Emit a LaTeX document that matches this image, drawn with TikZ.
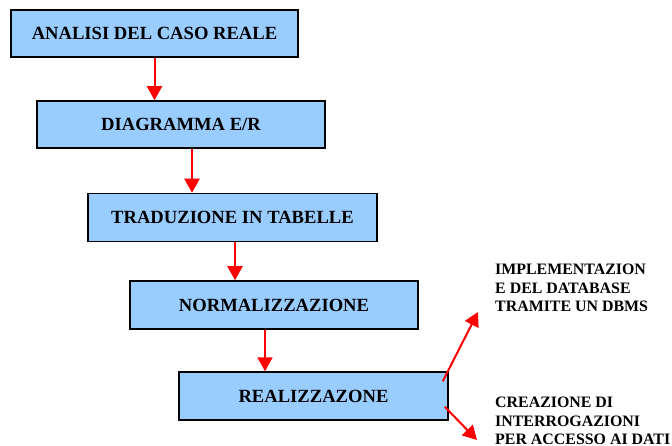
\documentclass[tikz,border=0pt]{standalone}
\usepackage{fontspec}
\setmainfont{Liberation Serif}
\usetikzlibrary{arrows.meta,calc}
\definecolor{boxblue}{HTML}{99CCFF}
\tikzset{
  stepbox/.style={draw=black, line width=1.5pt, fill=boxblue, inner sep=0pt,
    minimum height=47pt, font=\fontsize{18.6}{22}\selectfont\bfseries},
  arr/.style={draw=red, line width=2pt, -{Triangle[length=14pt,width=15pt]}},
  sidetext/.style={inner sep=0pt, align=left, anchor=north west,
    font=\fontsize{15.9}{18.3}\selectfont\bfseries}
}
\begin{document}
\begin{tikzpicture}[x=1pt,y=-1pt]
\useasboundingbox (0,0) rectangle (672,446);
\node[stepbox, minimum width=287pt] (b1) at (154.5,33.5) {ANALISI DEL CASO REALE};
\node[stepbox, minimum width=288pt] (b2) at (181,124.5) {DIAGRAMMA E/R};
\node[stepbox, minimum width=289pt, minimum height=48pt] (b3) at (232.5,217.5) {TRADUZIONE IN TABELLE};
\node[stepbox, minimum width=288pt, minimum height=48pt] (b4) at (274,305) {NORMALIZZAZIONE};
\node[stepbox, minimum width=269pt, minimum height=48pt] (b5) at (313.5,396) {REALIZZAZONE};
\node[sidetext] (t1) at (495,264) {IMPLEMENTAZION\\E DEL DATABASE\\TRAMITE UN DBMS};
\node[sidetext] (t2) at (495,397) {CREAZIONE DI\\INTERROGAZIONI\\PER ACCESSO AI DATI};
\coordinate (e1) at (478,312);
\coordinate (e2) at (477,440);
\coordinate (s2) at ($(b2.south)+(11,0)$);
\coordinate (s3) at ($(b3.south)+(2.5,0)$);
\coordinate (s4) at ($(b4.south)+(-9,0)$);
\coordinate (s5a) at ($(b5.north east)+(-6,10)$);
\coordinate (s5b) at ($(b5.south east)+(-4,-14)$);
\draw[arr] (b1.south) -- (b1.south |- b2.north);
\draw[arr] (s2) -- (s2 |- b3.north);
\draw[arr] (s3) -- (s3 |- b4.north);
\draw[arr] (s4) -- (s4 |- b5.north);
\draw[arr] (s5a) -- (e1);
\draw[arr] (s5b) -- (e2);
\end{tikzpicture}
\end{document}
